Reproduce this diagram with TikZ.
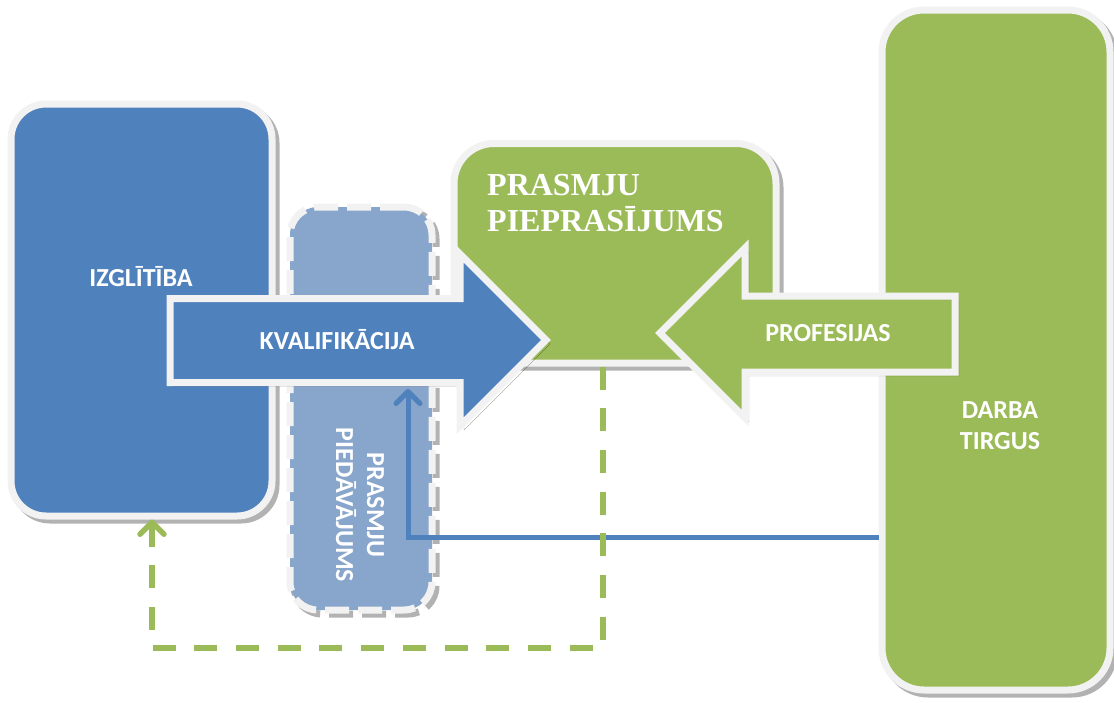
\documentclass[tikz,border=0pt]{standalone}
\usepackage{fontspec}
\setmainfont{Carlito}
\newfontfamily\virsrakstafont{Liberation Serif}
\usetikzlibrary{arrows.meta}
\definecolor{zils}{HTML}{4F81BD}
\definecolor{zals}{HTML}{9BBB59}
\definecolor{gaiszils}{HTML}{88A5CB}
\definecolor{mala}{HTML}{F2F2F2}

\begin{document}
\begin{tikzpicture}[x=1pt,y=-1pt,
	ena/.style={preaction={draw=black,draw opacity=0.3,transform canvas={xshift=4pt,yshift=-4pt}}},
	bloks/.style={draw=mala,line width=7pt,inner sep=0pt,ena},
	bulta/.style={draw=mala,line width=7pt,line join=miter,ena},
	uzraksts/.style={text=white,align=center,font=\bfseries\fontsize{26}{31}\selectfont},
	zilalinija/.style={draw=zils,line width=5pt,-{Straight Barb[length=12pt,width=24pt,round]}},
	zalalinija/.style={draw=zals,line width=5.5pt,dash pattern=on 23pt off 18.7pt,-{Straight Barb[length=12pt,width=24pt,round]}}]
	\useasboundingbox (0,0) rectangle (1114,702);
	%Izglitiba
	\node[bloks,fill=zils,rounded corners=35pt,minimum width=261pt,minimum height=412pt] (izglitiba) at (141.5,310) {};
	\node[uzraksts] (izglitibaTxt) at (141,277) {IZGLĪTĪBA};
	%Prasmju piedavajums
	\node[bloks,fill=gaiszils,rounded corners=28pt,dash pattern=on 24pt off 9pt,minimum width=142pt,minimum height=403pt] (piedavajums) at (361,408.5) {};
	\node[uzraksts,rotate=-90] (piedavajumsTxt) at (360,505) {PRASMJU\\PIEDĀVĀJUMS};
	%Prasmju pieprasijums
	\node[bloks,fill=zals,rounded corners=40pt,minimum width=322pt,minimum height=219.5pt] (pieprasijums) at (615,253.25) {};
	\node[anchor=north west,inner sep=0pt,text=white,align=left,font=\virsrakstafont\bfseries\fontsize{32}{36}\selectfont] (pieprasijumsTxt) at (487,174) {PRASMJU\\PIEPRASĪJUMS};
	%Darba tirgus
	\node[bloks,fill=zals,rounded corners=42pt,minimum width=228pt,minimum height=680pt] (darba) at (996,350) {};
	\node[uzraksts] (darbaTxt) at (1000,426) {DARBA\\TIRGUS};
	%Savienojumi
	\coordinate (kvalApaksa) at (408,389);
	\draw[zilalinija] (darba.west |- 0,537) -| (kvalApaksa);
	\draw[zalalinija] (pieprasijums.south -| 603,0) -- (603,648) -| (izglitiba.south -| 152,0);
	%Kvalifikacija
	\draw[bulta,fill=zils] (170,298.5) -- (460,298.5) -- (460,254) -- (546,340) -- (460,426) -- (460,382.5) -- (170,382.5) -- cycle;
	\node[uzraksts] (kvalifikacija) at (337,340) {KVALIFIKĀCIJA};
	%Profesijas
	\draw[bulta,fill=zals] (955,296) -- (745,296) -- (745,248) -- (660,333) -- (745,418) -- (745,372) -- (955,372) -- cycle;
	\node[uzraksts] (profesijas) at (828,333) {PROFESIJAS};
\end{tikzpicture}
\end{document}
